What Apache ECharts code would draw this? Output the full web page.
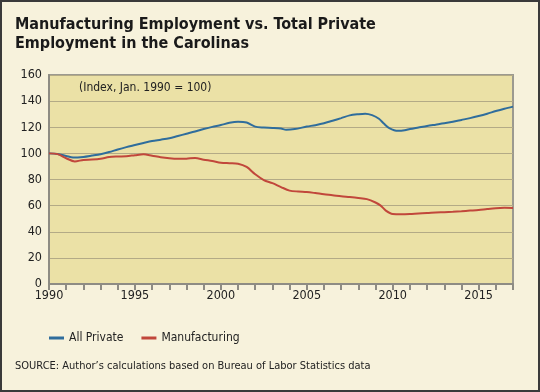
<!DOCTYPE html>
<html><head><meta charset="utf-8">
<script src="https://cdn.jsdelivr.net/npm/echarts@6/dist/echarts.min.js"></script>
<style>html,body{margin:0;padding:0;background:#f7f2dc;}#c{width:540px;height:392px;}</style>
</head><body><div id="c"></div>
<script>
const titleLines = ["Manufacturing Employment vs. Total Private", "Employment in the Carolinas"];
const noteText = "(Index, Jan. 1990 = 100)";
const sourceText = "SOURCE: Author\u2019s calculations based on Bureau of Labor Statistics data";
const seriesNames = ["All Private", "Manufacturing"];
const yTicks = [0, 20, 40, 60, 80, 100, 120, 140, 160];
const xLabelYears = [1990, 1995, 2000, 2005, 2010, 2015];

const privYears = [1990, 1990.5, 1991, 1991.4, 1992, 1992.5, 1993, 1993.5, 1994, 1994.5, 1995, 1995.5, 1996, 1996.5, 1997, 1997.5, 1998, 1998.5, 1999, 1999.5, 2000, 2000.5, 2001, 2001.5, 2002, 2002.5, 2003, 2003.5, 2003.8, 2004.3, 2005, 2005.5, 2006, 2006.5, 2007, 2007.5, 2008, 2008.4, 2008.8, 2009.2, 2009.5, 2009.8, 2010.3, 2010.7, 2011, 2011.5, 2012, 2012.5, 2013, 2013.5, 2014, 2014.5, 2015, 2015.5, 2016, 2016.5, 2017];
const privVals  = [100, 99.5, 98, 96.8, 97.3, 98.3, 99.4, 101, 103, 104.8, 106.4, 108, 109.5, 110.5, 111.6, 113.3, 115, 116.7, 118.6, 120.3, 121.7, 123.4, 124.2, 123.6, 120.5, 119.8, 119.5, 119, 118.1, 118.6, 120.5, 121.6, 123, 125, 127, 129.1, 130, 130.4, 129.3, 126.5, 122.6, 119.4, 117.3, 117.7, 118.6, 119.8, 121, 122, 123, 124.2, 125.6, 127, 128.6, 130.4, 132.4, 134.2, 135.8];

const mfgYears = [1990, 1990.5, 1991, 1991.5, 1992, 1992.5, 1993, 1993.5, 1994, 1994.5, 1995, 1995.5, 1996, 1996.5, 1997, 1997.5, 1998, 1998.5, 1999, 1999.5, 2000, 2000.5, 2001, 2001.5, 2002, 2002.5, 2003, 2003.5, 2004, 2004.5, 2005, 2005.5, 2006, 2006.5, 2007, 2007.5, 2008, 2008.5, 2009, 2009.3, 2009.6, 2010, 2010.5, 2011, 2011.5, 2012, 2012.5, 2013, 2013.5, 2014, 2014.5, 2015, 2015.5, 2016, 2016.5, 2017];
const mfgVals  = [100, 99.4, 96.3, 93.8, 95, 95.3, 95.9, 97.2, 97.6, 97.8, 98.6, 99.3, 98.2, 97, 96.2, 95.8, 95.9, 96.5, 95.2, 94.2, 92.9, 92.5, 92.1, 89.6, 84, 79.6, 77.2, 74.2, 71.5, 70.8, 70.4, 69.6, 68.7, 68, 67.2, 66.6, 65.9, 65, 62.4, 60, 56.2, 53.6, 53.4, 53.6, 54, 54.3, 54.8, 55, 55.3, 55.7, 56.2, 56.7, 57.4, 58, 58.3, 58.2];

const privData = privYears.map((y, i) => [y, privVals[i]]);
const mfgData = mfgYears.map((y, i) => [y, mfgVals[i]]);

const FONT = "'Liberation Sans Narrow', 'DejaVu Sans Condensed', sans-serif";
const chart = echarts.init(document.getElementById('c'), null, {renderer: 'canvas'});
chart.setOption({
  backgroundColor: '#f7f2dc',
  animation: false,
  textStyle: {fontFamily: FONT},
  grid: {left: 49, top: 75, right: 27, bottom: 108, show: true, backgroundColor: '#ebe1a6', borderColor: '#9c9a90', borderWidth: 2},
  xAxis: {
    type: 'value', min: 1990, max: 2017, interval: 1,
    axisLine: {lineStyle: {color: '#8e8c84', width: 2}},
    axisTick: {show: true, length: 6, lineStyle: {color: '#8e8c84', width: 2}},
    splitLine: {show: false},
    axisLabel: {color: '#222', fontSize: 12.5, fontFamily: FONT, margin: 5,
      formatter: v => xLabelYears.includes(v) ? String(v) : ''}
  },
  yAxis: {
    type: 'value', min: yTicks[0], max: yTicks[yTicks.length - 1], interval: 20,
    axisLine: {show: true, lineStyle: {color: '#8e8c84', width: 2}},
    axisTick: {show: false},
    splitLine: {lineStyle: {color: '#b3aa86', width: 1}},
    axisLabel: {color: '#222', fontSize: 12.5, fontFamily: FONT, margin: 7}
  },
  legend: {
    left: 44, top: 327, itemWidth: 15, itemHeight: 3, itemGap: 18, icon: 'rect',
    textStyle: {color: '#222', fontSize: 12, fontFamily: FONT},
    data: seriesNames
  },
  graphic: [
    {type: 'rect', shape: {x: 1, y: 1, width: 538, height: 390}, style: {fill: 'none', stroke: '#3a3a3a', lineWidth: 2}, z: 100},
    {type: 'text', left: 15, top: 15, style: {text: titleLines.join('\n'), fill: '#1a1a1a', font: "bold 16px " + FONT, lineHeight: 19}},
    {type: 'text', left: 79, top: 82, style: {text: noteText, fill: '#222', font: "12px " + FONT}},
    {type: 'text', left: 15, top: 361, style: {text: sourceText, fill: '#222', font: "11px " + FONT}}
  ],
  series: [
    {name: seriesNames[0], type: 'line', data: privData, showSymbol: false, smooth: 0.3, lineStyle: {color: '#2f6d9c', width: 2}, itemStyle: {color: '#2f6d9c'}},
    {name: seriesNames[1], type: 'line', data: mfgData, showSymbol: false, smooth: 0.3, lineStyle: {color: '#c1473b', width: 2}, itemStyle: {color: '#c1473b'}}
  ]
});
</script></body></html>
